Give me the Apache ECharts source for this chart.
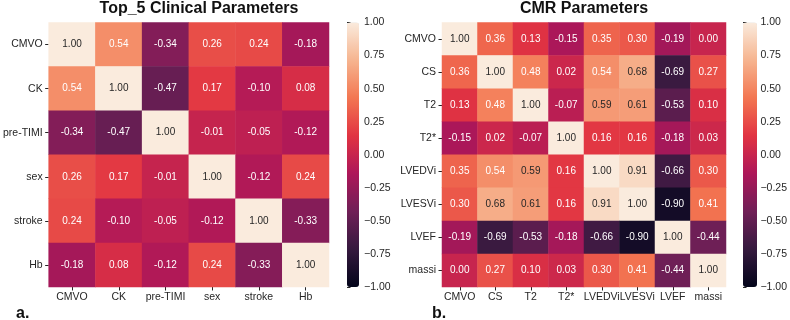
<!DOCTYPE html>
<html>
<head>
<meta charset="utf-8">
<script src="https://cdn.jsdelivr.net/npm/echarts@6/dist/echarts.min.js"></script>
<style>
  html, body { margin: 0; padding: 0; background: #fff; }
  #main { width: 790px; height: 320px; }
</style>
</head>
<body>
<div id="main"></div>
<script>
    // 数据
    var clinLabels = ['CMVO', 'CK', 'pre-TIMI', 'sex', 'stroke', 'Hb'];
    var clinCorr = [
        [1.00, 0.54, -0.34, 0.26, 0.24, -0.18],
        [0.54, 1.00, -0.47, 0.17, -0.10, 0.08],
        [-0.34, -0.47, 1.00, -0.01, -0.05, -0.12],
        [0.26, 0.17, -0.01, 1.00, -0.12, 0.24],
        [0.24, -0.10, -0.05, -0.12, 1.00, -0.33],
        [-0.18, 0.08, -0.12, 0.24, -0.33, 1.00]
    ];
    var cmrLabels = ['CMVO', 'CS', 'T2', 'T2*', 'LVEDVi', 'LVESVi', 'LVEF', 'massi'];
    var cmrCorr = [
        [1.00, 0.36, 0.13, -0.15, 0.35, 0.30, -0.19, 0.00],
        [0.36, 1.00, 0.48, 0.02, 0.54, 0.68, -0.69, 0.27],
        [0.13, 0.48, 1.00, -0.07, 0.59, 0.61, -0.53, 0.10],
        [-0.15, 0.02, -0.07, 1.00, 0.16, 0.16, -0.18, 0.03],
        [0.35, 0.54, 0.59, 0.16, 1.00, 0.91, -0.66, 0.30],
        [0.30, 0.68, 0.61, 0.16, 0.91, 1.00, -0.90, 0.41],
        [-0.19, -0.69, -0.53, -0.18, -0.66, -0.90, 1.00, -0.44],
        [0.00, 0.27, 0.10, 0.03, 0.30, 0.41, -0.44, 1.00]
    ];

    // rocket 色带
    var rocket = ['#03051a', '#35193e', '#701f57', '#ad1759', '#e13342', '#f37651', '#f6b48f', '#faebdd'];
    var font = 'Liberation Sans, Arial, sans-serif';
    var ink = '#262626';
    var tickSize = 10.5;

    function toCells(m) {
        var out = [];
        for (var i = 0; i < m.length; i++) {
            for (var j = 0; j < m[i].length; j++) {
                var v = m[i][j];
                out.push({
                    value: [j, i, v],
                    label: { color: v > 0.56 ? ink : '#ffffff' }
                });
            }
        }
        return out;
    }

    function catX(idx, labels) {
        return {
            type: 'category', gridIndex: idx, data: labels, position: 'bottom',
            axisLine: { show: false },
            axisTick: { show: true, alignWithLabel: true, length: 3.5, lineStyle: { color: ink } },
            axisLabel: { fontSize: tickSize, color: ink, fontFamily: font, margin: 5, interval: 0 },
            splitLine: { show: false }
        };
    }
    function catY(idx, labels) {
        return {
            type: 'category', gridIndex: idx, data: labels, inverse: true,
            axisLine: { show: false },
            axisTick: { show: true, alignWithLabel: true, length: 3.5, lineStyle: { color: ink } },
            axisLabel: { fontSize: tickSize, color: ink, fontFamily: font, margin: 6, interval: 0 },
            splitLine: { show: false }
        };
    }
    // 色条刻度
    function cbarY(idx) {
        return {
            type: 'value', gridIndex: idx, position: 'right', min: -1, max: 1, interval: 0.25,
            axisLine: { show: false },
            axisTick: { show: true, length: 3.5, lineStyle: { color: ink } },
            axisLabel: {
                fontSize: tickSize, color: ink, fontFamily: font, margin: 5,
                formatter: function (v) { return v.toFixed(2).replace('-', '\u2212'); }
            },
            splitLine: { show: false }
        };
    }
    function cbarX(idx) {
        return { type: 'value', gridIndex: idx, show: false, min: 0, max: 1 };
    }

    var myChart = echarts.init(document.getElementById('main'));
    var option = {
        animation: false,
        title: [
            { text: 'Top_5 Clinical Parameters', left: 199, top: 1, textAlign: 'center', padding: 0,
              textStyle: { fontSize: 16, fontWeight: 'bold', color: '#111', fontFamily: font } },
            { text: 'CMR Parameters', left: 584, top: 1, textAlign: 'center', padding: 0,
              textStyle: { fontSize: 16, fontWeight: 'bold', color: '#111', fontFamily: font } },
            { text: 'a.', left: 16, top: 306, padding: 0,
              textStyle: { fontSize: 16, fontWeight: 'bold', color: '#111', fontFamily: font } },
            { text: 'b.', left: 432, top: 306, padding: 0,
              textStyle: { fontSize: 16, fontWeight: 'bold', color: '#111', fontFamily: font } }
        ],
        grid: [
            { left: 45, top: 22.5, width: 284, height: 264.5 },
            { left: 442, top: 22.5, width: 284, height: 264.5 },
            { left: 347, top: 22.5, width: 12, height: 264.5 },
            { left: 743, top: 22.5, width: 14, height: 264.5 }
        ],
        xAxis: [catX(0, clinLabels), catX(1, cmrLabels), cbarX(2), cbarX(3)],
        yAxis: [catY(0, clinLabels), catY(1, cmrLabels), cbarY(2), cbarY(3)],
        visualMap: [
            { type: 'continuous', min: -1, max: 1, seriesIndex: 0, calculable: false, hoverLink: false,
              left: 347, top: 22.5, itemWidth: 12, itemHeight: 264.5, padding: 0, text: null,
              showLabel: false, inRange: { color: rocket } },
            { type: 'continuous', min: -1, max: 1, seriesIndex: 1, calculable: false, hoverLink: false,
              left: 743, top: 22.5, itemWidth: 14, itemHeight: 264.5, padding: 0, text: null,
              showLabel: false, inRange: { color: rocket } }
        ],
        series: [
            {
                type: 'heatmap', xAxisIndex: 0, yAxisIndex: 0, data: toCells(clinCorr),
                label: { show: true, fontSize: 10, fontFamily: font,
                    formatter: function (p) { return p.value[2].toFixed(2); } },
                emphasis: { disabled: true }
            },
            {
                type: 'heatmap', xAxisIndex: 1, yAxisIndex: 1, data: toCells(cmrCorr),
                label: { show: true, fontSize: 10, fontFamily: font,
                    formatter: function (p) { return p.value[2].toFixed(2); } },
                emphasis: { disabled: true }
            }
        ]
    };
    myChart.setOption(option);
</script>
</body>
</html>
